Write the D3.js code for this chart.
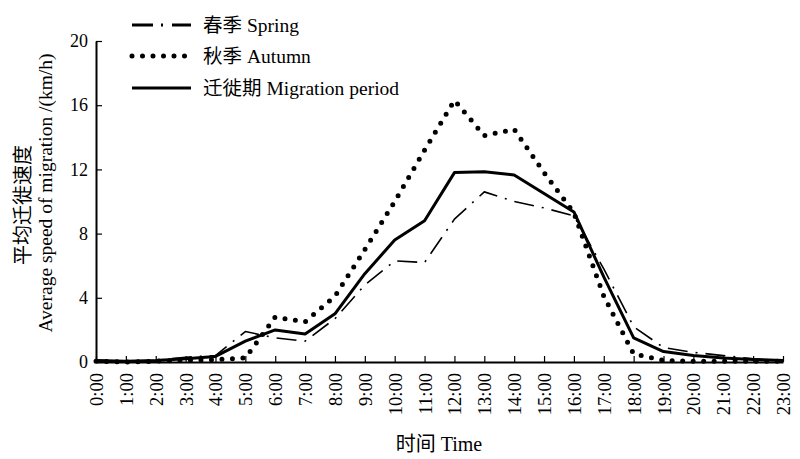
<!DOCTYPE html>
<html>
<head>
<meta charset="utf-8">
<script src="https://cdn.jsdelivr.net/npm/d3@7"></script>
<style>
  html, body { margin: 0; padding: 0; background: #fff; }
  svg text { font-family: "Liberation Serif", "Noto Sans CJK SC", serif; fill: #000; }
</style>
</head>
<body>
<svg id="chart" width="800" height="459"></svg>
<script>
const hours = ["0:00","1:00","2:00","3:00","4:00","5:00","6:00","7:00","8:00","9:00","10:00","11:00","12:00","13:00","14:00","15:00","16:00","17:00","18:00","19:00","20:00","21:00","22:00","23:00"];
const spring    = [0.1, 0.05, 0.1, 0.3, 0.4, 1.9, 1.5, 1.3, 2.7, 4.8, 6.3, 6.2, 8.9, 10.6, 10.0, 9.6, 9.1, 5.8, 2.2, 0.9, 0.6, 0.4, 0.2, 0.1];
const autumn    = [0.05, 0.0, 0.05, 0.1, 0.15, 0.25, 2.8, 2.5, 4.1, 7.0, 10.0, 13.2, 16.3, 14.1, 14.5, 11.8, 9.3, 4.1, 0.5, 0.1, 0.05, 0.05, 0.05, 0.05];
const migration = [0.1, 0.05, 0.1, 0.2, 0.35, 1.3, 2.0, 1.75, 3.0, 5.5, 7.6, 8.8, 11.8, 11.85, 11.65, 10.5, 9.35, 5.3, 1.5, 0.65, 0.4, 0.25, 0.15, 0.1];
const yTicks = [0, 4, 8, 12, 16, 20];
const seriesNames = ["春季 Spring", "秋季 Autumn", "迁徙期 Migration period"];
const yTitle1 = "平均迁徙速度";
const yTitle2 = "Average speed of migration /(km/h)";
const xTitle = "时间 Time";

const svg = d3.select("#chart");
const mLeft = 96, mRight = 783, mTop = 41, mBottom = 362;

const x = d3.scalePoint().domain(hours).range([mLeft, mRight]);
const y = d3.scaleLinear().domain([0, 20]).range([mBottom, mTop]);

const styles = [
  { data: spring, width: 1.6, dash: "20,8,2,8", cap: "butt" },
  { data: autumn, width: 5, dash: "0,10.5", cap: "round" },
  { data: migration, width: 3, dash: null, cap: "butt" }
];

const line = d3.line().x((d, i) => x(hours[i])).y(d => y(d));

styles.forEach(s => {
  svg.append("path")
    .datum(s.data)
    .attr("d", line)
    .attr("fill", "none")
    .attr("stroke", "#000")
    .attr("stroke-width", s.width)
    .attr("stroke-linecap", s.cap)
    .attr("stroke-linejoin", "round")
    .attr("stroke-dasharray", s.dash);
});

const xAxis = svg.append("g")
  .attr("transform", `translate(0,${mBottom})`)
  .call(d3.axisBottom(x).tickSizeInner(-6).tickSizeOuter(0).tickPadding(0));
xAxis.select(".domain").attr("stroke", "#000").attr("stroke-width", 2);
xAxis.selectAll(".tick line").attr("stroke", "#000").attr("stroke-width", 1.2);
xAxis.selectAll(".tick text")
  .attr("transform", "rotate(-90)")
  .attr("x", -11)
  .attr("y", 0)
  .attr("dy", "0.35em")
  .attr("text-anchor", "end")
  .style("font-size", "18.5px")
  .style("font-family", '"Liberation Serif", serif');

const yAxis = svg.append("g")
  .attr("transform", `translate(${mLeft},0)`)
  .call(d3.axisLeft(y).tickValues(yTicks).tickSizeInner(-6).tickSizeOuter(0).tickPadding(8));
yAxis.select(".domain").attr("stroke", "#000").attr("stroke-width", 2);
yAxis.selectAll(".tick line").attr("stroke", "#000").attr("stroke-width", 1.2);
yAxis.selectAll(".tick text")
  .style("font-size", "18px")
  .style("font-family", '"Liberation Serif", serif');

svg.append("text")
  .attr("transform", "translate(30,205) rotate(-90)")
  .attr("text-anchor", "middle")
  .style("font-size", "20px")
  .text(yTitle1);
svg.append("text")
  .attr("transform", "translate(52,193) rotate(-90)")
  .attr("text-anchor", "middle")
  .style("font-size", "19.5px")
  .text(yTitle2);
svg.append("text")
  .attr("x", 439)
  .attr("y", 451)
  .attr("text-anchor", "middle")
  .style("font-size", "20px")
  .text(xTitle);

const legendY = [25, 56, 88];
styles.forEach((s, i) => {
  const g = svg.append("g").attr("transform", `translate(0,${legendY[i]})`);
  g.append("line")
    .attr("x1", 132).attr("x2", i === 1 ? 192 : 191)
    .attr("y1", 0).attr("y2", 0)
    .attr("stroke", "#000")
    .attr("stroke-width", i === 0 ? 3 : s.width)
    .attr("stroke-linecap", s.cap)
    .attr("stroke-dasharray", i === 0 ? "21,8,2,9" : s.dash);
  g.append("text")
    .attr("x", 203)
    .attr("y", 0)
    .attr("dy", "0.35em")
    .style("font-size", "19.5px")
    .text(seriesNames[i]);
});
</script>
</body>
</html>
